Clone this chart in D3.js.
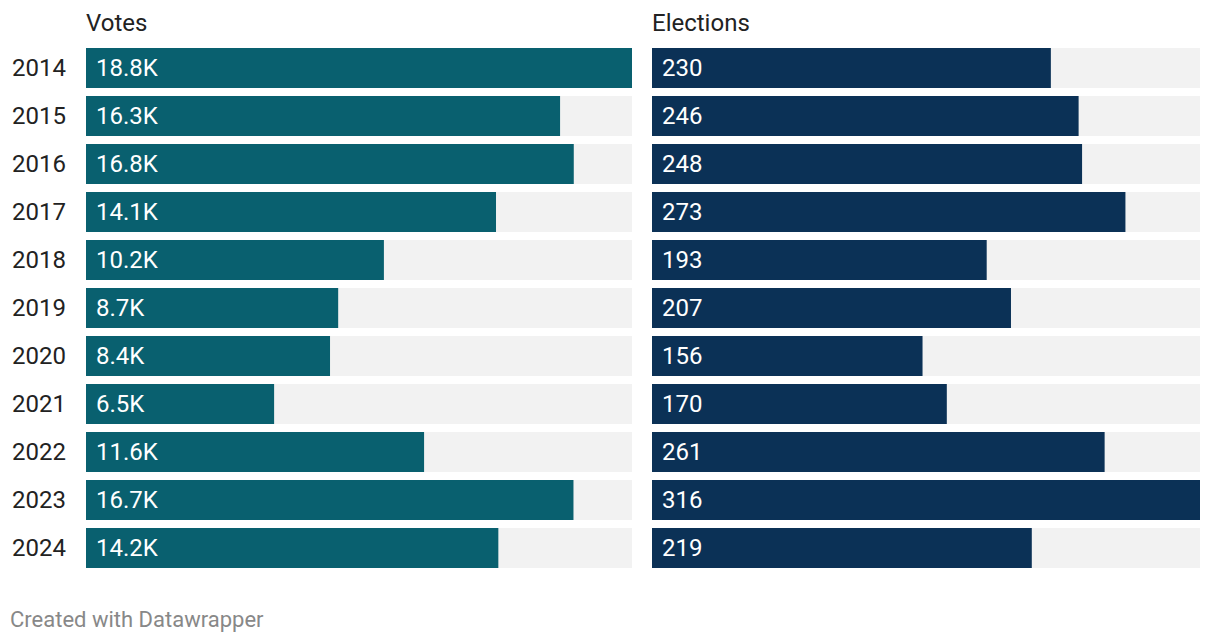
<!DOCTYPE html>
<html><head><meta charset="utf-8">
<script src="https://cdn.jsdelivr.net/npm/d3@7"></script>
<style>body{margin:0;background:#fff;font-family:Roboto,sans-serif;}</style>
</head><body>
<svg id="c" width="1220" height="644"></svg>
<script>
const years = ["2014","2015","2016","2017","2018","2019","2020","2021","2022","2023","2024"];
const votes = [18.75,16.28,16.75,14.08,10.23,8.66,8.38,6.46,11.61,16.74,14.16];
const elections = [230,246,248,273,193,207,156,170,261,316,219];
const voteLabels = ["18.8K","16.3K","16.8K","14.1K","10.2K","8.7K","8.4K","6.5K","11.6K","16.7K","14.2K"];

const svg = d3.select("#c");
const y = d3.scaleBand().domain(years).range([48, 48+48*11]).padding(0);
const bh = 40;

svg.selectAll("text.yr").data(years).join("text")
  .attr("x", 12).attr("y", d => y(d) + bh/2)
  .attr("dy","0.32em").attr("font-size",24).attr("fill","#222").text(d=>d);

function panel(x0, x1, vals, labels, color, title, maxv){
  const x = d3.scaleLinear().domain([0, maxv]).range([x0, x1]);
  const g = svg.append("g");
  g.append("text").attr("x", x0).attr("y", 31).attr("font-size",24).attr("fill","#222").text(title);
  g.selectAll("rect.bg").data(years).join("rect")
    .attr("x", x0).attr("y", d=>y(d)).attr("width", x1-x0).attr("height", bh).attr("fill","#f2f2f2");
  g.selectAll("rect.v").data(vals).join("rect")
    .attr("x", x0).attr("y", (d,i)=>y(years[i])).attr("width", d=>x(d)-x0).attr("height", bh).attr("fill", color);
  g.selectAll("text.l").data(labels).join("text")
    .attr("x", x0+10).attr("y", (d,i)=>y(years[i])+bh/2).attr("dy","0.32em")
    .attr("font-size",24).attr("fill","#fff").text(d=>d);
}
panel(86, 632, votes, voteLabels, "#09606f", "Votes", d3.max(votes));
panel(652, 1200, elections, elections.map(String), "#0b3156", "Elections", d3.max(elections));

svg.append("text").attr("x",10).attr("y",627).attr("font-size",22).attr("fill","#888").text("Created with Datawrapper");
</script>
</body></html>
